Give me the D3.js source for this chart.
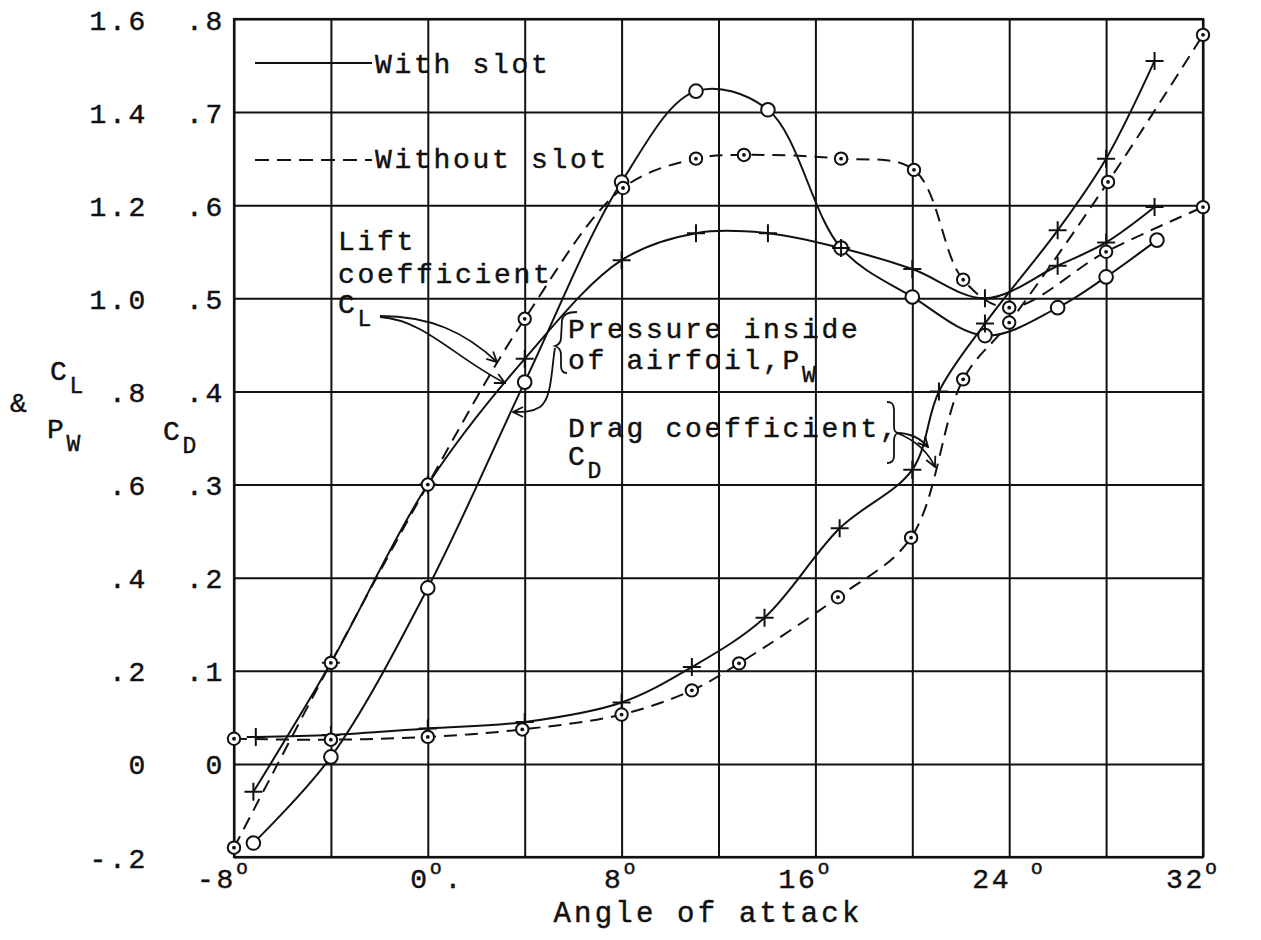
<!DOCTYPE html>
<html>
<head>
<meta charset="utf-8">
<script src="https://cdn.jsdelivr.net/npm/d3@7"></script>
<style>
  html, body { margin: 0; padding: 0; background: #fff; }
  svg text { font-family: "Liberation Mono", "DejaVu Sans Mono", monospace; fill: #111; stroke: #111; stroke-width: 0.45px; }
</style>
</head>
<body>
<svg id="chart" width="1261" height="940"></svg>
<script>
// ---- data ----
// pressure inside of airfoil, with slot (open circles)
const pwAngle = [-7.2, -4, 0, 4, 8, 11.07, 14.04, 17.06, 20, 23, 26, 28, 30.1];
const pwValue = [-0.17, 0.015, 0.378, 0.82, 1.25, 1.445, 1.405, 1.108, 1.003, 0.92, 0.98, 1.046, 1.125];

// lift coefficient, with slot (+)
const clSlotAngle = [-7.2, -4, 0, 4, 8, 11.07, 14.04, 17.06, 20, 23, 26, 28, 30];
const clSlotValue = [-0.06, 0.217, 0.60, 0.87, 1.082, 1.14, 1.14, 1.108, 1.063, 1.0, 1.07, 1.12, 1.196];

// lift coefficient, without slot (dotted circles)
const clNoSlotAngle = [-8, -4, 0, 4, 8.06, 11.07, 13.05, 17.06, 20.07, 22.1, 24, 28, 32];
const clNoSlotValue = [-0.18, 0.217, 0.60, 0.956, 1.237, 1.30, 1.308, 1.30, 1.276, 1.04, 0.98, 1.10, 1.196];

// drag coefficient, with slot (+)
const cdSlotAngle = [-7.1, -4, 0, 4, 8, 10.9, 13.9, 17, 20, 21.1, 23, 26, 28, 30];
const cdSlotValue = [0.029, 0.031, 0.038, 0.045, 0.066, 0.104, 0.157, 0.253, 0.316, 0.40, 0.473, 0.573, 0.65, 0.755];

// drag coefficient, without slot (dotted circles)
const cdNoSlotAngle = [-8, -4, 0, 3.9, 8, 10.9, 12.85, 16.93, 19.95, 22.1, 24, 28.08, 32];
const cdNoSlotValue = [0.027, 0.026, 0.029, 0.037, 0.053, 0.079, 0.108, 0.179, 0.243, 0.413, 0.474, 0.625, 0.783];

// axis ticks
const xTicks = [-8, 0, 8, 16, 24, 32];
const xTickLabels = ["-8", "0", "8", "16", "24 ", "32"];
const clTicks = [-0.2, 0, 0.2, 0.4, 0.6, 0.8, 1.0, 1.2, 1.4, 1.6];
const clTickLabels = ["-.2", "0", ".2", ".4", ".6", ".8", "1.0", "1.2", "1.4", "1.6"];
const cdTicks = [0, 0.1, 0.2, 0.3, 0.4, 0.5, 0.6, 0.7, 0.8];
const cdTickLabels = ["0", ".1", ".2", ".3", ".4", ".5", ".6", ".7", ".8"];

// ---- layout ----
const svg = d3.select("#chart");
const plot = { left: 234, right: 1203, top: 19, bottom: 857 };
const fontSize = 28, spacing = 2.7, advance = fontSize * 0.6 + spacing;

const x = d3.scaleLinear().domain([-8, 32]).range([plot.left, plot.right]);
const yL = d3.scaleLinear().domain([-0.2, 1.6]).range([plot.bottom, plot.top]);
const yD = d3.scaleLinear().domain([-0.1, 0.8]).range([plot.bottom, plot.top]);

svg.append("rect").attr("width", 1261).attr("height", 940).attr("fill", "#fff");

// grid
svg.append("g")
    .attr("class", "x grid")
    .attr("transform", `translate(0,${plot.bottom})`)
    .call(d3.axisBottom(x).tickValues(d3.range(-8, 33, 4)).tickSize(-(plot.bottom - plot.top)).tickFormat(""))
    .call(g => g.select(".domain").remove());

svg.append("g")
    .attr("class", "y grid")
    .attr("transform", `translate(${plot.left},0)`)
    .call(d3.axisLeft(yL).tickValues(clTicks).tickSize(-(plot.right - plot.left)).tickFormat(""))
    .call(g => g.select(".domain").remove());

svg.selectAll(".grid line").attr("stroke", "#111").attr("stroke-width", 2);

svg.append("rect")
    .attr("x", plot.left).attr("y", plot.top)
    .attr("width", plot.right - plot.left).attr("height", plot.bottom - plot.top)
    .attr("fill", "none").attr("stroke", "#111").attr("stroke-width", 2.2);

// tick labels
function styleLabels(g) {
    g.select(".domain").remove();
    g.selectAll("line").remove();
    g.attr("font-family", null).attr("font-size", null);
    g.selectAll("text")
        .attr("font-size", fontSize)
        .attr("letter-spacing", spacing)
        .attr("dy", "0.36em");
}

svg.append("g")
    .attr("class", "y axis cl")
    .attr("transform", "translate(148,0)")
    .call(d3.axisLeft(yL).tickValues(clTicks).tickSize(0).tickPadding(0)
        .tickFormat((d, i) => clTickLabels[i]))
    .call(styleLabels);

svg.append("g")
    .attr("class", "y axis cd")
    .attr("transform", "translate(225,0)")
    .call(d3.axisLeft(yD).tickValues(cdTicks).tickSize(0).tickPadding(0)
        .tickFormat((d, i) => cdTickLabels[i]))
    .call(styleLabels);

const xLab = svg.append("g").attr("class", "x axis")
    .selectAll("text")
    .data(xTicks)
    .join("text")
    .attr("x", (d, i) => x(d) + 2 - xTickLabels[i].trimEnd().length * advance)
    .attr("y", plot.bottom + 31)
    .attr("font-size", fontSize)
    .attr("letter-spacing", spacing);

xLab.append("tspan").text((d, i) => xTickLabels[i]);
xLab.append("tspan").attr("font-size", 20).attr("dy", -14).text("o");
xLab.filter(d => d === 0).append("tspan").attr("dy", 14).text(".");

svg.append("text")
    .attr("x", 708).attr("y", 922)
    .attr("text-anchor", "middle")
    .attr("font-size", 29)
    .attr("letter-spacing", 3.2)
    .text("Angle of attack");

// ---- curves ----
const series = [
    { angle: pwAngle, value: pwValue, y: yL, marker: "open", dash: null },
    { angle: clSlotAngle, value: clSlotValue, y: yL, marker: "plus", dash: null },
    { angle: clNoSlotAngle, value: clNoSlotValue, y: yL, marker: "dot", dash: "13,8" },
    { angle: cdSlotAngle, value: cdSlotValue, y: yD, marker: "plus", dash: null },
    { angle: cdNoSlotAngle, value: cdNoSlotValue, y: yD, marker: "dot", dash: "13,8" }
];
series.forEach(s => { s.points = s.angle.map((a, i) => ({ a: a, v: s.value[i] })); });

const curves = svg.append("g").attr("class", "curves");
curves.selectAll("path")
    .data(series)
    .join("path")
    .attr("fill", "none")
    .attr("stroke", "#111")
    .attr("stroke-width", 2)
    .attr("stroke-dasharray", d => d.dash)
    .attr("d", s => d3.line()
        .x(p => x(p.a))
        .y(p => s.y(p.v))
        .curve(d3.curveCatmullRom.alpha(0.5))(s.points));

const marks = svg.append("g").attr("class", "markers");
series.forEach(s => {
    const g = marks.append("g");
    const pts = g.selectAll("g").data(s.points).join("g")
        .attr("transform", p => `translate(${x(p.a)},${s.y(p.v)})`);
    if (s.marker === "plus") {
        pts.append("path")
            .attr("d", "M-9,0H9M0,-9V9")
            .attr("stroke", "#111").attr("stroke-width", 2);
    } else {
        pts.append("circle")
            .attr("r", s.marker === "open" ? 6.8 : 6.2)
            .attr("fill", "#fff").attr("stroke", "#111").attr("stroke-width", 2);
        if (s.marker === "dot") {
            pts.append("circle").attr("r", 1.9).attr("fill", "#111");
        }
    }
});

// ---- legend and notes ----
const notes = svg.append("g").attr("class", "notes")
    .attr("font-size", fontSize).attr("letter-spacing", spacing);

notes.append("line").attr("x1", 255).attr("x2", 372).attr("y1", 63).attr("y2", 63)
    .attr("stroke", "#111").attr("stroke-width", 2);
notes.append("line").attr("x1", 255).attr("x2", 372).attr("y1", 160).attr("y2", 160)
    .attr("stroke", "#111").attr("stroke-width", 2).attr("stroke-dasharray", "14,8");
notes.append("text").attr("x", 375).attr("y", 73).text("With slot");
notes.append("text").attr("x", 375).attr("y", 168).text("Without slot");

function subText(xp, yp, main, sub) {
    const t = notes.append("text").attr("x", xp).attr("y", yp);
    t.append("tspan").text(main);
    t.append("tspan").attr("font-size", 23).attr("dy", 13).text(sub);
}

notes.append("text").attr("x", 338).attr("y", 250).text("Lift");
notes.append("text").attr("x", 338).attr("y", 283).text("coefficient");
subText(338, 313, "C", "L");

notes.append("text").attr("x", 568).attr("y", 338).text("Pressure inside");
subText(568, 369, "of airfoil,P", "W");

notes.append("text").attr("x", 568).attr("y", 437).text("Drag coefficient,");
subText(568, 465, "C", "D");

notes.append("text").attr("x", 10).attr("y", 412).text("&");
subText(50, 380, "C", "L");
subText(47, 438, "P", "W");
subText(163, 440, "C", "D");

// arrows
const defs = svg.append("defs");
defs.append("marker")
    .attr("id", "head")
    .attr("viewBox", "0 0 12 12")
    .attr("refX", 11).attr("refY", 6)
    .attr("markerWidth", 12).attr("markerHeight", 12)
    .attr("markerUnits", "userSpaceOnUse")
    .attr("orient", "auto")
    .append("path")
    .attr("d", "M1,1L11,6L1,11")
    .attr("fill", "none").attr("stroke", "#111").attr("stroke-width", 1.8);

const arrows = [
    "M380,316C430,316 465,332 497,362",
    "M380,317C425,320 455,358 505,383",
    "M555,348C551,372 552,398 540,407C532,412 524,412 513,412",
    "M897,433C910,433 920,438 928,447",
    "M897,433C915,440 928,452 935,467"
];
notes.selectAll("path.arrow")
    .data(arrows)
    .join("path")
    .attr("class", "arrow")
    .attr("d", d => d)
    .attr("fill", "none").attr("stroke", "#111").attr("stroke-width", 1.8)
    .attr("marker-end", "url(#head)");

// braces
const braces = [
    "M577,312C570,312 563,313 562,320L561,338C561,343 558,345 555,346C558,347 561,350 561,355L561,366C561,371 563,373 567,373",
    "M887,402C892,402 894,404 894,410L894,426C894,431 895,432 898,433C895,434 894,436 894,441L894,456C894,461 892,463 887,463"
];
notes.selectAll("path.brace")
    .data(braces)
    .join("path")
    .attr("class", "brace")
    .attr("d", d => d)
    .attr("fill", "none").attr("stroke", "#111").attr("stroke-width", 1.8);
</script>
</body>
</html>
